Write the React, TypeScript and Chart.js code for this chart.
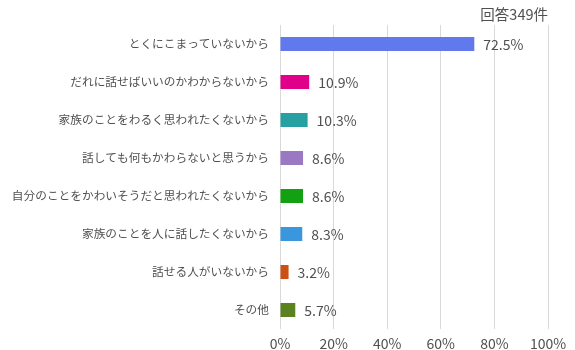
import React, { useEffect, useRef } from "react";
import { Chart, registerables } from "chart.js";

Chart.register(...registerables);

const categories = [
  "とくにこまっていないから",
  "だれに話せばいいのかわからないから",
  "家族のことをわるく思われたくないから",
  "話しても何もかわらないと思うから",
  "自分のことをかわいそうだと思われたくないから",
  "家族のことを人に話したくないから",
  "話せる人がいないから",
  "その他",
];
const values = [72.5, 10.9, 10.3, 8.6, 8.6, 8.3, 3.2, 5.7];
const barColors = [
  "#6179EC",
  "#E0008A",
  "#26A0A0",
  "#9A79C2",
  "#13A113",
  "#3A96DD",
  "#CC5014",
  "#5A8220",
];
const xTicks = [0, 20, 40, 60, 80, 100];
const countLabel = "回答349件";

const FONT = "'Noto Sans CJK JP', 'Noto Sans', sans-serif";
const TEXT = "#505050";

export default function App() {
  const ref = useRef<HTMLCanvasElement | null>(null);
  useEffect(() => {
    if (!ref.current) return;
    const valueLabels = {
      id: "valueLabels",
      afterDatasetsDraw(chart: any) {
        const ctx = chart.ctx;
        const meta = chart.getDatasetMeta(0);
        ctx.save();
        ctx.font = `14px ${FONT}`;
        ctx.fillStyle = TEXT;
        ctx.textAlign = "left";
        ctx.textBaseline = "middle";
        meta.data.forEach((el: any, i: number) => {
          ctx.fillText(values[i].toFixed(1) + "%", el.x + 9, el.y + 1);
        });
        const area = chart.chartArea;
        ctx.textAlign = "right";
        ctx.textBaseline = "alphabetic";
        ctx.font = `14.5px ${FONT}`;
        ctx.fillText(countLabel, area.right, area.top - 5);
        ctx.restore();
      },
    };
    const chart = new Chart(ref.current, {
      type: "bar",
      data: {
        labels: categories,
        datasets: [
          {
            data: values,
            backgroundColor: barColors,
            barPercentage: 0.37,
            categoryPercentage: 1,
          },
        ],
      },
      options: {
        indexAxis: "y",
        animation: false,
        responsive: false,
        maintainAspectRatio: false,
        layout: { padding: { top: 25, right: 27, bottom: 0, left: 0 } },
        plugins: {
          legend: { display: false },
          tooltip: { enabled: false },
        },
        scales: {
          x: {
            min: 0,
            max: 100,
            afterBuildTicks(axis: any) {
              axis.ticks = xTicks.map((v) => ({ value: v }));
            },
            afterFit(axis: any) {
              axis.height = 21;
            },
            ticks: {
              callback: (v: any) => v + "%",
              color: TEXT,
              font: { family: FONT, size: 14 },
              padding: 6,
            },
            grid: { color: "#D9D9D9", drawTicks: false },
            border: { display: false },
          },
          y: {
            afterFit(axis: any) {
              axis.width = 280;
            },
            ticks: {
              color: TEXT,
              font: { family: FONT, size: 11.7 },
              padding: 11,
            },
            grid: { display: false, drawTicks: false },
            border: { display: false },
          },
        },
      },
      plugins: [valueLabels],
    } as any);
    return () => chart.destroy();
  }, []);
  return (
    <div style={{ position: "fixed", left: 0, top: 0, width: 575, height: 350, background: "#fff" }}>
      <canvas ref={ref} width={575} height={350} style={{ display: "block" }} />
    </div>
  );
}
